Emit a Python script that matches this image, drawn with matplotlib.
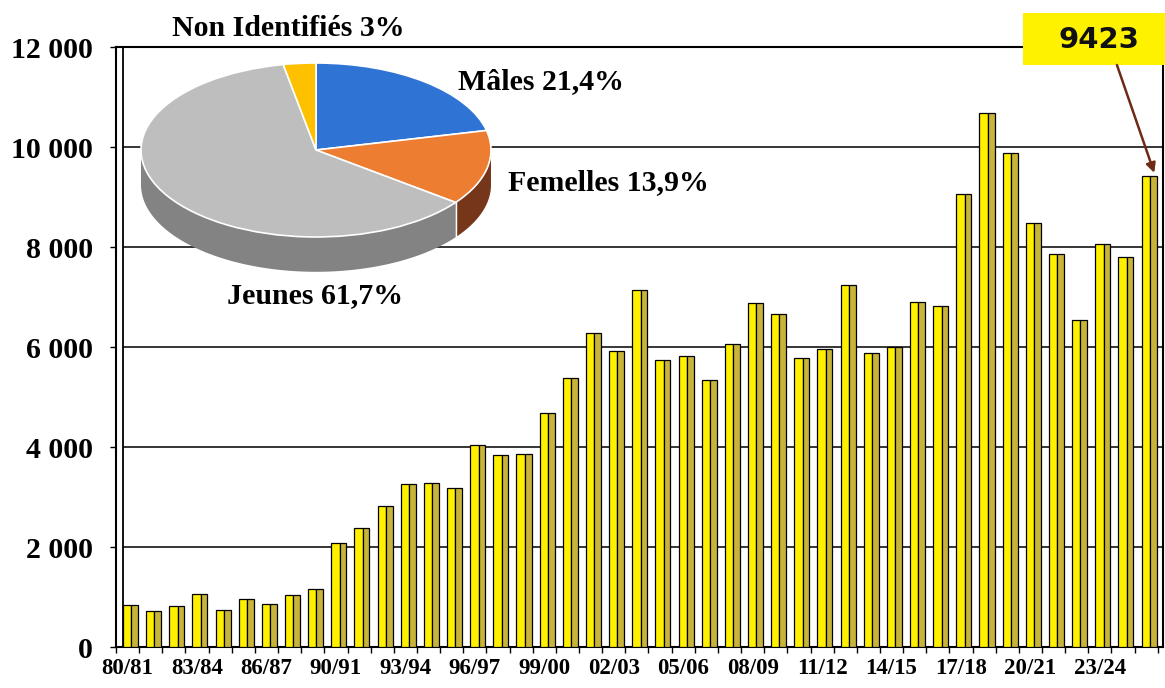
import matplotlib
matplotlib.use("Agg")
import matplotlib.pyplot as plt
from matplotlib.patches import Rectangle, Polygon
import numpy as np

# ----------------------------------------------------------------------
# Données
# ----------------------------------------------------------------------
effectifs = [850, 720, 830, 1060, 750, 960, 860, 1040, 1160,
             2080, 2380, 2830, 3260, 3290, 3180, 4040, 3850, 3860,
             4690, 5380, 6280, 5920, 7140, 5750, 5820, 5350, 6060,
             6880, 6670, 5780, 5960, 7250, 5880, 6010, 6900, 6830,
             9070, 10690, 9880, 8490, 7860, 6550, 8070, 7810, 9423]

saisons_ticks = ["80/81", "83/84", "86/87", "90/91", "93/94", "96/97", "99/00",
                 "02/03", "05/06", "08/09", "11/12", "14/15", "17/18", "20/21", "23/24"]

y_ticks = [0, 2000, 4000, 6000, 8000, 10000, 12000]
y_labels = ["0", "2 000", "4 000", "6 000", "8 000", "10 000", "12 000"]

parts = [21.4, 13.9, 61.7, 3.0]
parts_noms = ["Mâles 21,4%", "Femelles 13,9%", "Jeunes 61,7%", "Non Identifiés 3%"]
couleurs_dessus = ["#2F74D4", "#ED7D31", "#BEBEBE", "#FFC000"]
couleurs_cote = ["#1F4E8C", "#76361A", "#838383", "#B38600"]

# ----------------------------------------------------------------------
# Figure
# ----------------------------------------------------------------------
W, H = 1165, 688
SERIF = "Liberation Serif"
fig = plt.figure(figsize=(W / 100, H / 100), dpi=100, facecolor="white")

# axes principal (px: gauche 116, droite 1163, haut 47, bas 647)
ax = fig.add_axes([116 / W, (H - 647) / H, 1047 / W, 600 / H])
XMAX = -0.5 + 1047 / 23.15
ax.set_xlim(-0.5, XMAX)
ax.set_ylim(0, 12000)

x = np.arange(len(effectifs))
# face avant + face latérale (effet 3D)
ax.bar(x - 0.02, effectifs, width=0.36, color="#FFF000",
       edgecolor="black", linewidth=0.9, zorder=3)
ax.bar(x + 0.305, effectifs, width=0.29, color="#C8B43A",
       edgecolor="black", linewidth=0.9, zorder=3)

# quadrillage (paroi du fond)
ax.hlines(y_ticks[1:-1], -0.18, XMAX, colors="black", linewidth=1.1, zorder=1)
ax.vlines(-0.18, 0, 12000, colors="black", linewidth=1.3, zorder=1)

for s in ax.spines.values():
    s.set_linewidth(1.5)
    s.set_color("black")

ax.set_yticks(y_ticks)
ax.set_yticklabels(y_labels, fontfamily=SERIF, fontweight="bold", fontsize=21.5)
ax.tick_params(axis="y", length=4.5, width=1, pad=12)

ax.set_xticks(x[::3])
ax.set_xticklabels(saisons_ticks, fontfamily=SERIF, fontweight="bold", fontsize=16.5)
ax.set_xticks(np.arange(len(effectifs) + 1) - 0.5, minor=True)
ax.tick_params(axis="x", which="major", length=0, pad=8)
ax.tick_params(axis="x", which="minor", length=4, width=1)

# encadré "9423" + flèche
ax.add_patch(Rectangle((0.8663, 0.9700), 0.1375, 0.0867, transform=ax.transAxes,
                       facecolor="#FFF200", edgecolor="none", clip_on=False, zorder=5))
ax.text(0.9389, 1.0117, str(effectifs[-1]), transform=ax.transAxes,
        ha="center", va="center", fontsize=21, fontweight="bold",
        family="DejaVu Sans", color="#111111", zorder=6, clip_on=False)
ax.annotate("", xy=(x[-1] + 0.35, effectifs[-1] + 60), xycoords="data",
            xytext=(0.9560, 0.9700), textcoords="axes fraction",
            arrowprops=dict(arrowstyle="-|>", color="#6E2A14", lw=1.8,
                            mutation_scale=14, shrinkA=0, shrinkB=0),
            annotation_clip=False, zorder=6)

# ----------------------------------------------------------------------
# Camembert 3D (inset)
# ----------------------------------------------------------------------
CX, CY, RX, RY = 316, 150, 175, 87
XL, YB, YT = 1.02, -1.47, 1.03
axp = fig.add_axes([(CX - XL * RX) / W, (H - (CY - YB * RY)) / H,
                    2 * XL * RX / W, (YT - YB) * RY / H])
axp.pie(parts, colors=couleurs_dessus, startangle=90, counterclock=False,
        radius=1, wedgeprops=dict(edgecolor="white", linewidth=1.2))
axp.set_aspect("auto")
axp.set_xlim(-XL, XL)
axp.set_ylim(YB, YT)
axp.axis("off")

depth = 0.40
cum = np.concatenate([[0], np.cumsum(parts)]) / np.sum(parts)
for k in range(len(parts)):
    a_hi = 90 - 360 * cum[k]
    a_lo = 90 - 360 * cum[k + 1]
    for base in (-540, -180, 180):
        lo, hi = max(a_lo, base), min(a_hi, base + 180)
        if hi > lo:
            t = np.radians(np.linspace(lo, hi, 80))
            xs, ys = np.cos(t), np.sin(t)
            poly = np.column_stack([np.r_[xs, xs[::-1]], np.r_[ys, ys[::-1] - depth]])
            axp.add_patch(Polygon(poly, closed=True, facecolor=couleurs_cote[k],
                                  edgecolor="none", zorder=0.5))
    a = np.radians(a_lo)
    if np.sin(a) < 0:
        axp.plot([np.cos(a), np.cos(a)], [np.sin(a), np.sin(a) - depth],
                 color="white", lw=1.0, zorder=0.6)

# étiquettes du camembert
positions = [(541, 82), (608, 183), (315, 296), (288, 28)]
for nom, (px, py) in zip(parts_noms, positions):
    fig.text(px / W, 1 - py / H, nom, ha="center", va="center",
             fontfamily=SERIF, fontweight="bold", fontsize=21.5, color="black")

fig.savefig("out.png", dpi=100, facecolor="white")
